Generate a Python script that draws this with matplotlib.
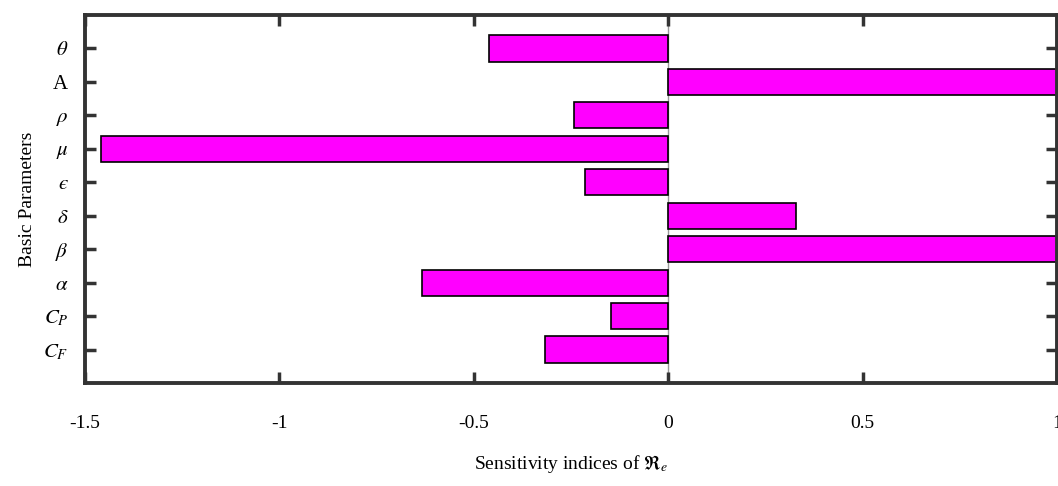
import matplotlib.pyplot as plt
import numpy as np

plt.rcParams['font.family'] = ['Liberation Serif', 'DejaVu Serif']
plt.rcParams['mathtext.fontset'] = 'stix'

params = [r'$C_F$', r'$C_P$', r'$\alpha$', r'$\beta$', r'$\delta$',
          '$\u03f5$', r'$\mu$', r'$\rho$', 'A', r'$\theta$']
indices = [-0.316, -0.147, -0.632, 1.0, 0.329, -0.215, -1.459, -0.242, 1.0, -0.46]

y = np.arange(1, len(params) + 1)

fig = plt.figure(figsize=(10.58, 4.86), dpi=100)
ax = fig.add_axes([85/1058, 1 - 383/486, (1057-85)/1058, (383-15)/486])

ax.axvline(0, color='#999999', lw=1, zorder=1)
ax.barh(y, indices, height=0.78, color='#ff00ff', edgecolor='black', lw=1.2, zorder=2)

ax.set_xlim(-1.5, 1)
ax.set_ylim(0, 11)
ax.set_xticks([-1.5, -1, -0.5, 0, 0.5, 1])
ax.set_xticklabels(['-1.5', '-1', '-0.5', '0', '0.5', '1'])
ax.set_yticks(y)
ax.set_yticklabels(params)
ax.tick_params(direction='in', length=8, width=2.5, color='#333333',
               top=True, right=True, labelsize=14)
ax.tick_params(axis='x', pad=23)
ax.tick_params(axis='y', pad=12, labelsize=15)
for s in ax.spines.values():
    s.set_linewidth(2.8)
    s.set_color('#333333')

ax.set_xlabel(r'Sensitivity indices of $\Re_e$', fontsize=14, labelpad=15)
ax.set_ylabel('Basic Parameters', fontsize=14, labelpad=5)

fig.savefig('out.png', dpi=100)
